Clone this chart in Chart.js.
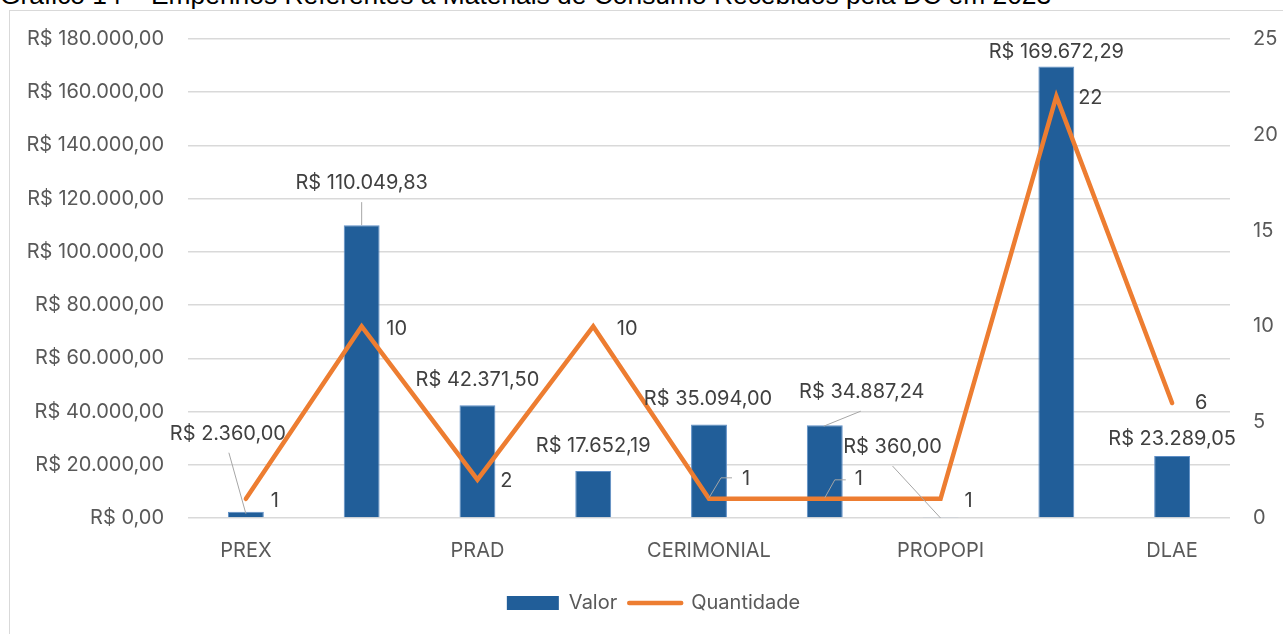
<!DOCTYPE html>
<html lang="pt-BR">
<head>
<meta charset="utf-8">
<title>Gráfico 14</title>
<script src="https://cdn.jsdelivr.net/npm/chart.js@4.4.1/dist/chart.umd.min.js"></script>
<style>
  html, body { margin: 0; padding: 0; background: #fff; overflow: hidden; }
  body { width: 1283px; height: 634px; position: relative; }
  #titulo {
    position: absolute; left: 0; white-space: nowrap;
    font-family: "Liberation Sans", Arial, sans-serif; color: #000; line-height: 1;
  }
  #caixa {
    position: absolute; left: 9px; top: 10px; width: 1300px; height: 640px;
    border: 1.5px solid #d9d9d9; box-sizing: border-box;
  }
  #grafico { position: absolute; left: 0; top: 0; }
</style>
</head>
<body>
<div id="titulo">Gráfico 14 – Empenhos Referentes a Materiais de Consumo Recebidos pela DC em 2023</div>
<div id="caixa"></div>
<canvas id="grafico" width="1283" height="634"></canvas>
<script>
// categorias (as de posição ímpar não aparecem no eixo do original)
const categorias = ['PREX', 'GR', 'PRAD', 'PROGEP', 'CERIMONIAL', 'PROPLAN', 'PROPOPI', 'PROGRAD', 'DLAE'];
const valores = [2360.00, 110049.83, 42371.50, 17652.19, 35094.00, 34887.24, 360.00, 169672.29, 23289.05];
const quantidades = [1, 10, 2, 10, 1, 1, 1, 22, 6];
const valorMin = 0, valorMax = 180000, valorPasso = 20000;
const qtdMin = 0, qtdMax = 25, qtdPasso = 5;

// posição dos rótulos (centro do texto relativo ao topo da barra / ao ponto)
const valorRotuloPos = [[-18, -78], [0, -42], [0, -25], [0, -25], [-1, -26], [37, -33], [-48, -70], [0, -14], [0, -17]];
const valorGuias = {
    0: [[-17, -59], [0, 2]],
    1: [[0, -23], [0, 0]],
    5: [[36, -14], [-1, 1]],
    6: [[-48, -51], [0, 1]]
};
const qtdRotuloPos = [[29, 2], [35, 3], [29, 1], [34, 3], [37, -20], [34, -20], [28, 2], [34, 2], [29, 0]];
const qtdGuias = {
    4: [[0, -1], [12, -21], [23, -21]],
    5: [[0, -1], [10, -19], [21, -19]]
};

const fonte = 'Inter, "Liberation Sans", sans-serif';
const tam = 20;

function brl(v) {
    const partes = Number(v).toFixed(2).split('.');
    return 'R$ ' + partes[0].replace(/\B(?=(\d{3})+(?!\d))/g, '.') + ',' + partes[1];
}

// título cortado no topo, como no original
const titulo = document.getElementById('titulo');
(function () {
    const c = document.createElement('canvas').getContext('2d');
    c.font = '20px "Liberation Sans"';
    const w = c.measureText(titulo.textContent).width;
    const fs = 20 * 1052 / w;
    titulo.style.fontSize = fs + 'px';
    titulo.style.top = (4 - 0.85 * fs) + 'px';
})();

const rotulos = {
    id: 'rotulos',
    afterDatasetsDraw(chart) {
        const ctx = chart.ctx;
        ctx.save();
        ctx.font = tam + 'px ' + fonte;
        ctx.textAlign = 'center';
        ctx.textBaseline = 'middle';
        chart.data.datasets.forEach((ds, di) => {
            const meta = chart.getDatasetMeta(di);
            meta.data.forEach((el, i) => {
                const guia = ds.guias[i];
                if (guia) {
                    ctx.strokeStyle = '#a6a6a6';
                    ctx.lineWidth = 1;
                    ctx.beginPath();
                    guia.forEach((p, k) => {
                        if (k === 0) ctx.moveTo(el.x + p[0], el.y + p[1]);
                        else ctx.lineTo(el.x + p[0], el.y + p[1]);
                    });
                    ctx.stroke();
                }
                const [dx, dy] = ds.rotuloPos[i];
                ctx.fillStyle = '#404040';
                ctx.fillText(ds.formatar(ds.data[i]), el.x + dx, el.y + dy);
            });
        });
        ctx.restore();
    }
};

const ctx = document.getElementById('grafico').getContext('2d');
new Chart(ctx, {
    type: 'bar',
    data: {
        labels: categorias,
        datasets: [{
            label: 'Valor',
            data: valores,
            yAxisID: 'y',
            order: 1,
            backgroundColor: '#215e99',
            borderColor: '#5f8fc6',
            borderWidth: 1,
            barPercentage: 0.31,
            categoryPercentage: 1,
            rotuloPos: valorRotuloPos,
            guias: valorGuias,
            formatar: brl
        }, {
            label: 'Quantidade',
            type: 'line',
            data: quantidades,
            yAxisID: 'y1',
            order: 0,
            borderColor: '#ed7d31',
            backgroundColor: '#ed7d31',
            borderWidth: 4.5,
            borderCapStyle: 'round',
            pointRadius: 0,
            pointHoverRadius: 0,
            tension: 0,
            rotuloPos: qtdRotuloPos,
            guias: qtdGuias,
            formatar: v => String(v)
        }]
    },
    options: {
        responsive: false,
        animation: false,
        layout: { padding: { left: 24, right: 0, top: 39, bottom: 11 } },
        plugins: {
            title: { display: false },
            tooltip: { enabled: false },
            legend: {
                position: 'bottom',
                labels: {
                    usePointStyle: true,
                    pointStyleWidth: 52,
                    boxHeight: 14,
                    padding: 12,
                    color: '#595959',
                    font: { family: fonte, size: tam },
                    sort: (a, b) => a.datasetIndex - b.datasetIndex,
                    generateLabels(chart) {
                        return chart.data.datasets.map((ds, i) => ({
                            text: ds.label,
                            datasetIndex: i,
                            fillStyle: ds.backgroundColor,
                            strokeStyle: i === 0 ? ds.backgroundColor : ds.borderColor,
                            lineWidth: i === 0 ? 0 : 4.5,
                            lineCap: 'round',
                            pointStyle: i === 0 ? 'rect' : 'line',
                            fontColor: '#595959',
                            hidden: false
                        }));
                    }
                }
            }
        },
        scales: {
            x: {
                grid: { display: false },
                border: { display: false },
                ticks: {
                    autoSkip: false,
                    maxRotation: 0,
                    padding: 13,
                    color: '#595959',
                    font: { family: fonte, size: tam },
                    callback(v, i) { return i % 2 === 0 ? this.getLabelForValue(v) : ''; }
                },
                afterFit(s) { s.height = 63; }
            },
            y: {
                position: 'left',
                min: valorMin,
                max: valorMax,
                grid: { color: '#d9d9d9', lineWidth: 1.5, drawTicks: false },
                border: { display: false },
                ticks: {
                    stepSize: valorPasso,
                    padding: 24,
                    color: '#595959',
                    font: { family: fonte, size: tam },
                    callback: v => brl(v)
                },
                afterFit(s) { s.width = 164; }
            },
            y1: {
                position: 'right',
                min: qtdMin,
                max: qtdMax,
                grid: { display: false, drawTicks: false },
                border: { display: false },
                ticks: {
                    stepSize: qtdPasso,
                    padding: 23,
                    color: '#595959',
                    font: { family: fonte, size: tam }
                },
                afterFit(s) { s.width = 53; }
            }
        }
    },
    plugins: [rotulos]
});
</script>
</body>
</html>
